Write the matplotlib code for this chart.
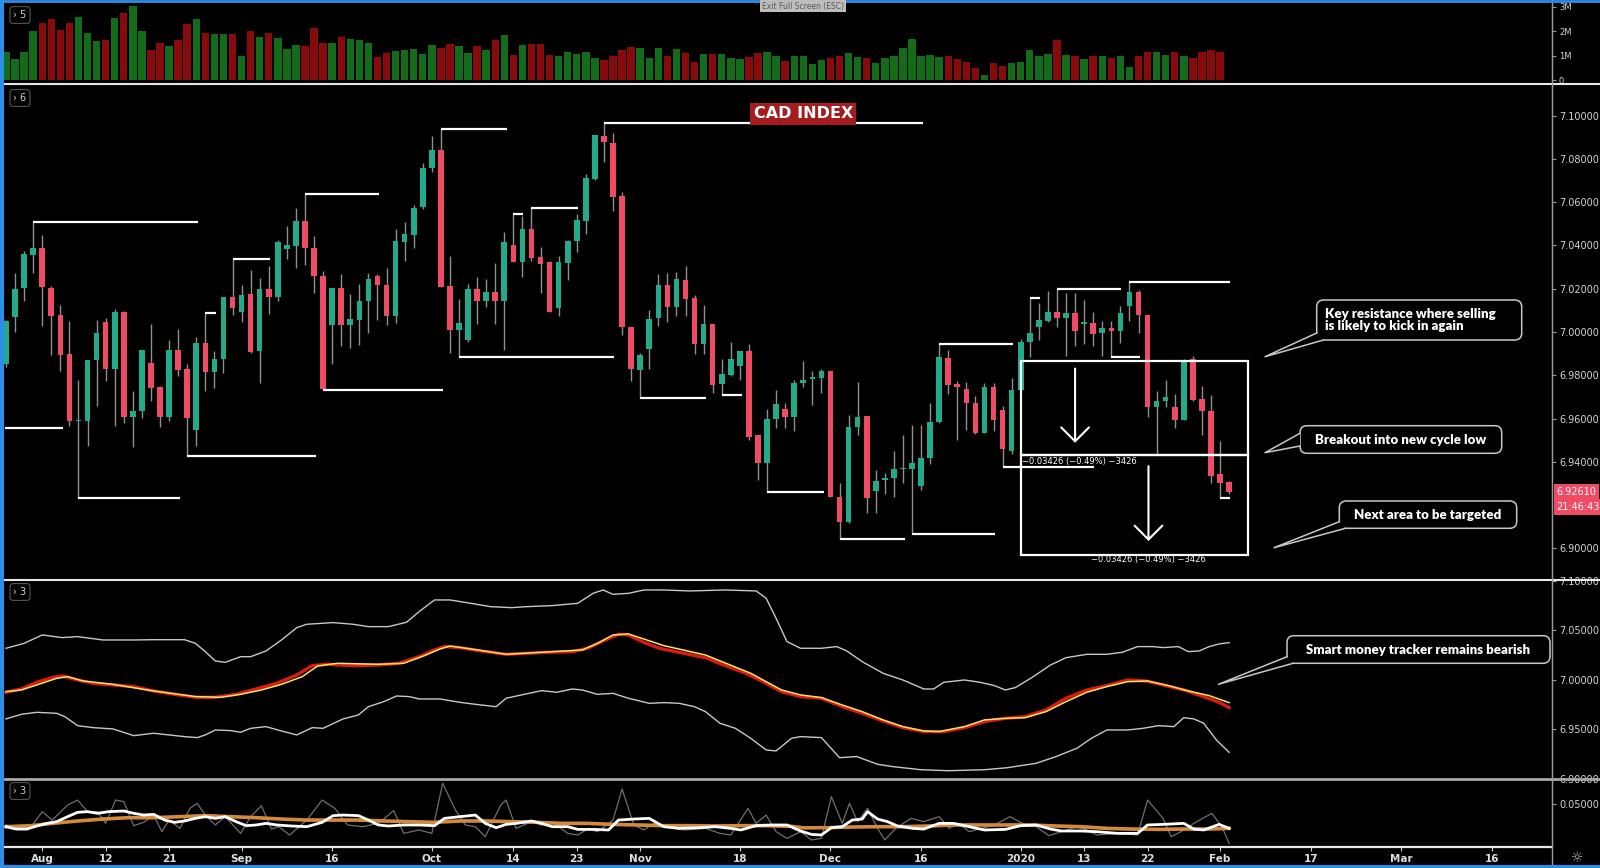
import numpy as np
import pandas as pd
import matplotlib
matplotlib.use("Agg")
import matplotlib.pyplot as plt
from matplotlib.patches import Rectangle, FancyBboxPatch, Polygon
from matplotlib.lines import Line2D
from matplotlib.transforms import blended_transform_factory

# ---------------- data ----------------
first_session = "2019-07-26"
last_session = "2020-03-31"
holidays = ["2019-12-25", "2020-01-01"]

opens = [6.9852, 7.0069, 7.0203, 7.0357, 7.0389, 7.0203, 7.0080, 6.9898, 6.9589, 6.9588,
         6.9871, 7.0046, 6.9829, 7.0092, 6.9606, 6.9634, 6.9857, 6.9746, 6.9606, 6.9915,
         6.9829, 6.9546, 6.9949, 6.9815, 6.9875, 7.0162, 7.0091, 7.0175, 6.9911, 7.0200,
         7.0163, 7.0385, 7.0398, 7.0514, 7.0388, 7.0257, 7.0034, 7.0203, 7.0034, 7.0057,
         7.0142, 7.0260, 7.0218, 7.0072, 7.0418, 7.0449, 7.0580, 7.0757, 7.0842, 7.0214,
         7.0008, 6.9965, 7.0198, 7.0145, 7.0185, 7.0142, 7.0400, 7.0322, 7.0475, 7.0346,
         7.0322, 7.0111, 7.0318, 7.0422, 7.0511, 7.0708, 7.0906, 7.0875, 7.0629, 7.0023,
         6.9825, 6.9922, 7.0065, 7.0218, 7.0114, 7.0242, 7.0157, 6.9946, 7.0037, 6.9760,
         6.9800, 6.9845, 6.9911, 6.9522, 6.9395, 6.9598, 6.9642, 6.9608, 6.9762, 6.9783,
         6.9788, 6.9822, 6.9238, 6.9122, 6.9562, 6.9611, 6.9265, 6.9314, 6.9326, 6.9366,
         6.9369, 6.9288, 6.9418, 6.9585, 6.9880, 6.9760, 6.9738, 6.9672, 6.9534, 6.9746,
         6.9638, 6.9449, 6.9731, 6.9954, 7.0022, 7.0049, 7.0092, 7.0065, 7.0088, 7.0037,
         7.0042, 6.9995, 7.0018, 7.0003, 7.0118, 7.0185, 7.0080, 6.9652, 6.9683, 6.9652,
         6.9591, 6.9877, 6.9691, 6.9634, 6.9345, 6.9306]
highs = [7.0057, 7.0272, 7.0375, 7.0508, 7.0449, 7.0214, 7.0126, 7.0049, 6.9777, 6.9871,
         7.0055, 7.0065, 7.0108, 7.0098, 6.9726, 6.9918, 7.0038, 6.9749, 6.9962, 7.0014,
         6.9852, 6.9977, 7.0088, 6.9911, 7.0163, 7.0337, 7.0218, 7.0288, 7.0249, 7.0303,
         7.0426, 7.0488, 7.0575, 7.0637, 7.0445, 7.0280, 7.0203, 7.0268, 7.0175, 7.0223,
         7.0272, 7.0268, 7.0295, 7.0475, 7.0508, 7.0588, 7.0780, 7.0906, 7.0940, 7.0349,
         7.0152, 7.0223, 7.0252, 7.0245, 7.0318, 7.0462, 7.0545, 7.0538, 7.0575, 7.0392,
         7.0326, 7.0352, 7.0426, 7.0545, 7.0729, 7.0911, 7.0965, 7.0918, 7.0649, 7.0023,
         6.9903, 7.0100, 7.0268, 7.0272, 7.0277, 7.0306, 7.0172, 7.0123, 7.0037, 6.9875,
         6.9952, 6.9914, 6.9945, 6.9522, 6.9646, 6.9734, 6.9672, 6.9780, 6.9865, 6.9818,
         6.9831, 6.9822, 6.9303, 6.9618, 6.9769, 6.9611, 6.9362, 6.9349, 6.9449, 6.9526,
         6.9572, 6.9572, 6.9672, 6.9945, 6.9918, 6.9772, 6.9768, 6.9703, 6.9765, 6.9765,
         6.9657, 6.9788, 6.9968, 7.0157, 7.0134, 7.0191, 7.0200, 7.0180, 7.0180, 7.0149,
         7.0091, 7.0049, 7.0049, 7.0118, 7.0231, 7.0195, 7.0080, 6.9729, 6.9780, 6.9714,
         6.9877, 6.9888, 6.9749, 6.9708, 6.9498, 6.9311]
lows = [6.9837, 7.0000, 7.0145, 7.0272, 7.0026, 6.9892, 6.9818, 6.9565, 6.9234, 6.9475,
        6.9660, 6.9772, 6.9565, 6.9580, 6.9468, 6.9603, 6.9680, 6.9560, 6.9588, 6.9795,
        6.9429, 6.9472, 6.9726, 6.9742, 6.9809, 7.0080, 7.0046, 6.9903, 6.9765, 7.0083,
        7.0145, 7.0338, 7.0298, 7.0311, 7.0180, 6.9734, 6.9852, 6.9937, 6.9926, 6.9942,
        6.9995, 7.0057, 7.0034, 7.0042, 7.0329, 7.0388, 7.0569, 7.0738, 7.0208, 6.9903,
        6.9885, 6.9954, 7.0037, 7.0114, 7.0037, 6.9918, 7.0322, 7.0252, 7.0326, 7.0180,
        7.0091, 7.0075, 7.0242, 7.0372, 7.0454, 7.0703, 7.0788, 7.0560, 6.9988, 6.9772,
        6.9695, 6.9831, 7.0026, 7.0046, 7.0072, 7.0072, 6.9900, 6.9898, 6.9718, 6.9711,
        6.9795, 6.9780, 6.9503, 6.9314, 6.9262, 6.9557, 6.9557, 6.9542, 6.9746, 6.9662,
        6.9718, 6.9238, 6.9042, 6.9118, 6.9523, 6.9162, 6.9162, 6.9249, 6.9237, 6.9303,
        6.9068, 6.9272, 6.9388, 6.9580, 6.9714, 6.9503, 6.9549, 6.9529, 6.9534, 6.9542,
        6.9375, 6.9437, 6.9729, 6.9883, 6.9965, 7.0045, 7.0022, 6.9891, 6.9934, 6.9945,
        6.9937, 6.9888, 6.9883, 6.9949, 7.0049, 6.9995, 6.9608, 6.9437, 6.9652, 6.9557,
        6.9591, 6.9680, 6.9523, 6.9303, 6.9234, 6.9249]
closes = [7.0049, 7.0200, 7.0360, 7.0389, 7.0206, 7.0072, 6.9895, 6.9588, 6.9594, 6.9871,
          6.9995, 6.9829, 7.0092, 6.9606, 6.9634, 6.9918, 6.9742, 6.9606, 6.9915, 6.9823,
          6.9603, 6.9949, 6.9815, 6.9875, 7.0163, 7.0111, 7.0172, 6.9906, 7.0200, 7.0163,
          7.0418, 7.0402, 7.0514, 7.0388, 7.0257, 6.9737, 7.0203, 7.0034, 7.0062, 7.0145,
          7.0246, 7.0215, 7.0072, 7.0422, 7.0452, 7.0572, 7.0760, 7.0842, 7.0208, 7.0008,
          7.0042, 7.0200, 7.0145, 7.0185, 7.0142, 7.0417, 7.0322, 7.0475, 7.0342, 7.0315,
          7.0091, 7.0323, 7.0422, 7.0518, 7.0711, 7.0911, 7.0877, 7.0622, 7.0022, 6.9829,
          6.9895, 7.0062, 7.0218, 7.0114, 7.0245, 7.0152, 6.9946, 7.0038, 6.9757, 6.9806,
          6.9875, 6.9911, 6.9515, 6.9395, 6.9598, 6.9668, 6.9608, 6.9765, 6.9780, 6.9792,
          6.9822, 6.9238, 6.9122, 6.9562, 6.9608, 6.9234, 6.9311, 6.9326, 6.9368, 6.9369,
          6.9395, 6.9418, 6.9585, 6.9885, 6.9757, 6.9745, 6.9672, 6.9534, 6.9746, 6.9591,
          6.9457, 6.9731, 6.9954, 6.9994, 7.0055, 7.0092, 7.0065, 7.0088, 7.0006, 7.0046,
          6.9991, 7.0018, 7.0003, 7.0088, 7.0185, 7.0080, 6.9652, 6.9683, 6.9698, 6.9595,
          6.9872, 6.9688, 6.9634, 6.9334, 6.9303, 6.9261]
volume_m = [1.16, 0.85, 1.16, 2.01, 2.33, 2.51, 2.05, 2.33, 2.58, 1.92,
            1.58, 1.62, 2.53, 2.74, 3.04, 2.01, 1.23, 1.51, 1.40, 1.64,
            2.29, 2.47, 1.92, 1.88, 1.88, 1.88, 0.96, 1.99, 1.75, 1.92,
            1.71, 1.26, 1.44, 1.40, 2.12, 1.53, 1.53, 1.75, 1.68, 1.64,
            1.53, 0.92, 1.12, 1.19, 1.23, 1.26, 1.07, 1.44, 1.30, 1.48,
            1.37, 1.10, 1.40, 1.21, 1.64, 1.85, 1.03, 1.44, 1.48, 1.48,
            1.03, 0.99, 1.16, 1.07, 1.16, 0.89, 0.82, 0.96, 1.23, 1.33,
            1.30, 0.89, 1.30, 0.99, 1.26, 1.10, 0.75, 1.07, 1.07, 1.07,
            0.89, 0.86, 0.93, 1.10, 1.16, 0.99, 0.78, 0.96, 0.96, 0.64,
            0.82, 0.89, 0.99, 1.10, 0.93, 0.89, 0.71, 0.88, 0.99, 1.30,
            1.67, 0.99, 1.03, 0.93, 0.96, 0.85, 0.75, 0.51, 0.21, 0.68,
            0.58, 0.68, 0.75, 1.23, 0.99, 1.07, 1.62, 1.03, 0.99, 0.85,
            0.99, 0.99, 0.89, 0.96, 0.55, 0.99, 1.14, 1.14, 1.03, 1.14,
            0.99, 0.89, 1.14, 1.23, 1.16, 0.02]

# swing high / low markers: (start bar, end bar, level)
swing_start = [3, -0.1, 8, 22, 25, 20, 33, 35, 48, 50, 56, 58, 66, 70, 79, 84, 92, 100,
               103, 110, 113, 116, 122, 124, 134]
swing_end = [21.2, 6.3, 19.2, 23.2, 29.1, 34.2, 41.2, 48.2, 55.3, 67.1, 57.1, 63.1, 101.2,
             77.3, 81.2, 90.3, 99.2, 109.2, 111.2, 120.1, 114.1, 123.1, 125.2, 135.1, 135.1]
swing_level = [7.0508, 6.9557, 6.9234, 7.0088, 7.0337, 6.9429, 7.0637, 6.9734, 7.0940,
               6.9885, 7.0545, 7.0575, 7.0965, 6.9695, 6.9711, 6.9262, 6.9042, 6.9068,
               6.9945, 6.9375, 7.0157, 7.0200, 6.9883, 7.0231, 6.9234]

# "smart money tracker" panel
upper_i = [0, 2.0, 4.0, 6.2, 7.9, 10.7, 14.1, 16.3, 19.7, 20.9, 22.0, 23.1, 24.2, 25.9, 27.0,
           28.7, 30.4, 32.1, 33.2, 36.1, 38.3, 40.0, 42.2, 44.2, 45.6, 47.3, 49.0, 51.3, 53.5,
           55.8, 57.4, 60.3, 63.1, 64.8, 65.9, 67.0, 68.7, 70.4, 72.6, 75.5, 79.4, 82.8, 83.9,
           85.0, 86.2, 87.7, 90.0, 91.7, 92.8, 94.5, 96.8, 99.0, 101.3, 102.4, 103.5, 105.8,
           107.5, 109.1, 110.3, 111.4, 113.1, 115.3, 117.0, 119.3, 121.5, 123.2, 124.9, 126.6,
           127.7, 129.4, 130.5, 131.7, 132.8, 133.9, 135.0]
upper_v = [7.0319, 7.0369, 7.0454, 7.0427, 7.0437, 7.0403, 7.0403, 7.0406, 7.0406, 7.0369,
           7.0285, 7.0191, 7.0177, 7.0234, 7.0234, 7.0292, 7.0403, 7.0528, 7.0562, 7.0579,
           7.0562, 7.0538, 7.0538, 7.0582, 7.0690, 7.0808, 7.0808, 7.0774, 7.0740, 7.0730,
           7.0740, 7.0751, 7.0774, 7.0875, 7.0909, 7.0865, 7.0875, 7.0909, 7.0909, 7.0899,
           7.0909, 7.0899, 7.0825, 7.0622, 7.0386, 7.0319, 7.0319, 7.0336, 7.0292, 7.0184,
           7.0066, 6.9998, 6.9907, 6.9907, 6.9975, 6.9998, 6.9975, 6.9941, 6.9897, 6.9921,
           7.0015, 7.0150, 7.0224, 7.0258, 7.0258, 7.0278, 7.0336, 7.0336, 7.0326, 7.0336,
           7.0285, 7.0292, 7.0336, 7.0363, 7.0376]
lower_i = [0, 1.7, 3.4, 5.6, 6.5, 7.9, 9.6, 11.8, 14.1, 16.3, 18.0, 19.7, 21.1, 22.0, 23.1,
           24.8, 25.9, 27.0, 28.7, 30.4, 32.1, 33.8, 35.0, 37.2, 38.9, 40.0, 41.7, 43.1, 44.5,
           45.6, 47.9, 50.1, 51.8, 54.1, 55.2, 56.9, 59.1, 60.8, 62.5, 63.6, 65.3, 67.0, 68.7,
           71.0, 72.6, 74.3, 76.0, 77.2, 78.8, 80.5, 82.2, 83.9, 85.0, 86.7, 87.7, 90.0, 92.0,
           93.9, 96.2, 98.0, 101.0, 104.0, 108.0, 110.5, 113.7, 115.9, 118.2, 119.8, 121.5,
           123.8, 125.5, 127.2, 128.9, 130.0, 131.1, 132.2, 133.6, 135.0]
lower_v = [6.9604, 6.9651, 6.9671, 6.9661, 6.9627, 6.9536, 6.9516, 6.9503, 6.9435, 6.9459,
           6.9442, 6.9425, 6.9415, 6.9442, 6.9492, 6.9486, 6.9469, 6.9509, 6.9526, 6.9482,
           6.9442, 6.9516, 6.9509, 6.9604, 6.9644, 6.9728, 6.9779, 6.9836, 6.9830, 6.9806,
           6.9806, 6.9772, 6.9752, 6.9728, 6.9813, 6.9847, 6.9890, 6.9874, 6.9907, 6.9897,
           6.9853, 6.9863, 6.9813, 6.9762, 6.9769, 6.9762, 6.9728, 6.9678, 6.9560, 6.9509,
           6.9408, 6.9290, 6.9280, 6.9408, 6.9425, 6.9415, 6.9212, 6.9223, 6.9145, 6.9120,
           6.9090, 6.9080, 6.9090, 6.9110, 6.9155, 6.9223, 6.9307, 6.9408, 6.9492, 6.9492,
           6.9509, 6.9536, 6.9526, 6.9617, 6.9604, 6.9560, 6.9391, 6.9266]
red_i = [0, 1.7, 3.4, 5.1, 6.2, 7.9, 9.6, 11.8, 14.1, 16.3, 18.6, 20.9, 23.1, 25.4, 27.6, 29.9,
         32.1, 33.8, 35.5, 38.3, 41.1, 43.4, 45.6, 47.3, 48.4, 50.1, 52.4, 55.2, 57.4, 59.7,
         62.5, 64.2, 65.9, 67.6, 68.7, 70.4, 72.1, 74.3, 77.2, 79.4, 81.7, 83.9, 85.6, 87.7,
         90.0, 92.3, 94.5, 96.8, 99.0, 101.3, 103.5, 105.8, 108.0, 110.3, 112.5, 114.8, 117.0,
         119.3, 121.5, 123.8, 125.8, 127.7, 130.0, 132.2, 133.9, 135.0]
red_v = [6.9874, 6.9907, 6.9975, 7.0022, 7.0039, 6.9998, 6.9965, 6.9948, 6.9931, 6.9887,
         6.9853, 6.9823, 6.9823, 6.9853, 6.9907, 6.9965, 7.0049, 7.0143, 7.0157, 7.0143,
         7.0150, 7.0167, 7.0234, 7.0302, 7.0336, 7.0326, 7.0292, 7.0258, 7.0268, 7.0278,
         7.0285, 7.0319, 7.0393, 7.0460, 7.0454, 7.0379, 7.0319, 7.0278, 7.0224, 7.0143,
         7.0066, 6.9965, 6.9880, 6.9830, 6.9813, 6.9729, 6.9661, 6.9584, 6.9516, 6.9476,
         6.9476, 6.9516, 6.9577, 6.9610, 6.9627, 6.9695, 6.9813, 6.9897, 6.9941, 6.9998,
         6.9988, 6.9948, 6.9897, 6.9830, 6.9772, 6.9718]
yel_i = [0, 1.7, 3.4, 5.6, 6.8, 8.5, 11.8, 16.3, 20.9, 23.7, 25.9, 28.2, 30.4, 32.7, 34.4,
         36.6, 41.1, 43.9, 46.2, 47.9, 49.0, 51.3, 55.2, 63.6, 65.3, 67.0, 68.7, 70.4, 72.6,
         77.2, 82.2, 85.6, 87.7, 90.0, 92.3, 94.5, 96.8, 99.0, 101.3, 103.0, 105.8, 108.0,
         110.3, 112.5, 114.8, 117.0, 119.3, 121.5, 123.8, 126.0, 128.3, 130.5, 132.8, 135.0]
yel_v = [6.9880, 6.9897, 6.9948, 7.0015, 7.0032, 6.9988, 6.9954, 6.9887, 6.9830, 6.9823,
         6.9853, 6.9897, 6.9954, 7.0032, 7.0140, 7.0167, 7.0157, 7.0167, 7.0245, 7.0312,
         7.0342, 7.0312, 7.0258, 7.0302, 7.0369, 7.0454, 7.0464, 7.0413, 7.0346, 7.0251,
         7.0066, 6.9897, 6.9847, 6.9820, 6.9745, 6.9678, 6.9594, 6.9526, 6.9482, 6.9476,
         6.9526, 6.9594, 6.9610, 6.9617, 6.9678, 6.9779, 6.9874, 6.9931, 6.9981, 6.9988,
         6.9941, 6.9887, 6.9840, 6.9769]

# bottom oscillator panel
org_i = [0, 2.8, 5.1, 7.9, 10.7, 13.5, 16.3, 19.2, 22.0, 24.8, 27.6, 30.4, 33.2, 36.1, 38.9,
         41.7, 44.5, 47.3, 50.1, 52.9, 55.8, 58.6, 61.4, 64.2, 67.0, 69.8, 72.6, 75.5, 78.3,
         81.1, 83.9, 86.7, 88.0, 90.6, 93.4, 96.2, 99.0, 101.8, 104.6, 107.5, 110.3, 113.1,
         115.9, 118.7, 121.5, 124.3, 127.2, 130.0, 132.8, 135.0]
org_v = [0.0236, 0.0248, 0.0275, 0.0303, 0.0326, 0.0342, 0.0342, 0.0354, 0.0366, 0.0354,
         0.0342, 0.0326, 0.0314, 0.0314, 0.0314, 0.0303, 0.0295, 0.0287, 0.0303, 0.0303,
         0.0295, 0.0287, 0.0275, 0.0275, 0.0263, 0.0256, 0.0248, 0.0248, 0.0244, 0.0248,
         0.0248, 0.0240, 0.0222, 0.0224, 0.0232, 0.0236, 0.0236, 0.0244, 0.0256, 0.0256,
         0.0256, 0.0256, 0.0244, 0.0236, 0.0216, 0.0208, 0.0204, 0.0208, 0.0208, 0.0216]
white_i = [0, 1.1, 2.3, 3.4, 4.5, 5.6, 6.8, 7.9, 9.0, 10.1, 11.3, 13.0, 14.1, 15.2, 16.3,
           17.5, 18.6, 19.7, 20.9, 22.0, 23.1, 24.2, 25.4, 26.5, 27.6, 28.7, 29.9, 31.5, 33.2,
           34.9, 36.1, 37.2, 38.9, 40.0, 41.1, 42.2, 43.9, 45.6, 47.3, 48.4, 50.1, 51.8, 52.9,
           54.1, 55.2, 56.3, 58.0, 59.1, 60.3, 62.0, 63.1, 64.8, 66.5, 67.6, 69.3, 71.0, 72.6,
           74.3, 76.6, 78.3, 80.0, 81.1, 82.8, 84.5, 86.2, 87.7, 88.9, 90.0, 91.1, 92.3, 93.4,
           94.5, 95.1, 96.2, 97.3, 98.4, 100.1, 101.3, 103.0, 104.6, 106.3, 108.0, 110.3,
           112.0, 113.7, 115.3, 116.5, 118.7, 120.4, 122.7, 124.9, 126.0, 127.7, 130.0, 131.1,
           132.2, 133.9, 135.0]
white_v = [0.0236, 0.0208, 0.0208, 0.0244, 0.0275, 0.0295, 0.0354, 0.0405, 0.0413, 0.0393,
           0.0413, 0.0421, 0.0393, 0.0373, 0.0381, 0.0314, 0.0287, 0.0303, 0.0334, 0.0354,
           0.0334, 0.0354, 0.0295, 0.0248, 0.0256, 0.0275, 0.0256, 0.0244, 0.0236, 0.0287,
           0.0366, 0.0373, 0.0366, 0.0314, 0.0256, 0.0244, 0.0256, 0.0256, 0.0248, 0.0334,
           0.0354, 0.0373, 0.0275, 0.0224, 0.0263, 0.0275, 0.0303, 0.0275, 0.0236, 0.0236,
           0.0204, 0.0204, 0.0197, 0.0314, 0.0326, 0.0334, 0.0236, 0.0216, 0.0224, 0.0236,
           0.0216, 0.0197, 0.0248, 0.0256, 0.0256, 0.0185, 0.0145, 0.0138, 0.0224, 0.0236,
           0.0314, 0.0326, 0.0413, 0.0326, 0.0295, 0.0244, 0.0216, 0.0208, 0.0275, 0.0275,
           0.0236, 0.0197, 0.0204, 0.0248, 0.0256, 0.0208, 0.0185, 0.0185, 0.0177, 0.0157,
           0.0157, 0.0256, 0.0263, 0.0275, 0.0208, 0.0197, 0.0263, 0.0216]
gray_i = [0, 1.7, 2.8, 4.0, 5.1, 6.8, 7.9, 9.0, 10.1, 11.0, 12.1, 13.0, 14.1, 15.2, 16.3,
          17.2, 18.0, 19.2, 20.3, 21.1, 22.0, 23.1, 24.2, 25.9, 27.0, 28.2, 29.3, 30.1, 31.3,
          33.2, 34.9, 36.3, 37.7, 39.4, 41.1, 42.8, 43.9, 45.6, 47.0, 48.2, 49.6, 50.7, 51.8,
          52.9, 54.6, 55.2, 56.3, 58.0, 59.1, 60.5, 62.0, 63.1, 64.2, 65.3, 67.0, 68.0, 69.3,
          70.4, 71.5, 72.6, 74.9, 77.2, 78.8, 80.0, 81.9, 82.8, 83.9, 85.0, 86.2, 87.7, 88.9,
          90.0, 91.1, 92.3, 93.1, 94.0, 95.1, 96.2, 97.0, 98.2, 99.9, 101.3, 103.0, 104.1,
          105.2, 106.3, 107.7, 109.1, 110.8, 112.2, 113.7, 115.1, 116.5, 118.2, 119.3, 120.4,
          122.7, 124.9, 126.0, 127.7, 128.6, 129.7, 131.1, 133.1, 134.2, 135.0]
gray_v = [0.0256, 0.0216, 0.0236, 0.0413, 0.0314, 0.0491, 0.0550, 0.0413, 0.0413, 0.0275,
          0.0550, 0.0531, 0.0248, 0.0287, 0.0373, 0.0177, 0.0314, 0.0216, 0.0452, 0.0511,
          0.0373, 0.0256, 0.0354, 0.0157, 0.0354, 0.0483, 0.0208, 0.0236, 0.0138, 0.0314,
          0.0550, 0.0452, 0.0256, 0.0236, 0.0275, 0.0425, 0.0157, 0.0197, 0.0157, 0.0747,
          0.0432, 0.0256, 0.0236, 0.0118, 0.0491, 0.0550, 0.0216, 0.0295, 0.0256, 0.0275,
          0.0157, 0.0138, 0.0208, 0.0177, 0.0314, 0.0680, 0.0256, 0.0197, 0.0275, 0.0236,
          0.0197, 0.0216, 0.0157, 0.0138, 0.0452, 0.0275, 0.0373, 0.0177, 0.0098, 0.0177,
          0.0079, 0.0098, 0.0590, 0.0275, 0.0511, 0.0295, 0.0452, 0.0216, 0.0079, 0.0216,
          0.0334, 0.0295, 0.0354, 0.0216, 0.0275, 0.0177, 0.0216, 0.0256, 0.0354, 0.0275,
          0.0236, 0.0130, 0.0177, 0.0236, 0.0197, 0.0138, 0.0157, 0.0138, 0.0550, 0.0334,
          0.0118, 0.0177, 0.0275, 0.0393, 0.0236, 0.0039]

tick_dates = ["2019-08-01", "2019-08-12", "2019-08-21", "2019-09-02", "2019-09-16",
              "2019-10-01", "2019-10-14", "2019-10-23", "2019-11-01", "2019-11-18",
              "2019-12-02", "2019-12-16", "2020-01-02", "2020-01-13", "2020-01-22",
              "2020-02-03", "2020-02-17", "2020-03-02", "2020-03-16"]
tick_labels = ["Aug", "12", "21", "Sep", "16", "Oct", "14", "23", "Nov", "18",
               "Dec", "16", "2020", "13", "22", "Feb", "17", "Mar", "16"]

# ---------------- layout ----------------
W, H = 1600, 868
BAR0_PX, BAR_PX = 6.0, 9.06
PLOT_L, PLOT_R = 3, 1552
x_lo = (PLOT_L - BAR0_PX) / BAR_PX
x_hi = (PLOT_R - BAR0_PX) / BAR_PX

GREEN, RED = "#22ab8b", "#ef4b65"
VOL_GREEN, VOL_RED = "#146c1a", "#870b0b"
AXIS_GRAY, LABEL = "#9a9a9a", "#d4d4d4"
NARROW = ["Liberation Sans Narrow", "DejaVu Sans"]
BOLD_FONT = ["Lato", "DejaVu Sans"]

sessions = pd.bdate_range(first_session, last_session).drop(pd.to_datetime(holidays))
tick_pos = [sessions.get_loc(pd.Timestamp(d)) for d in tick_dates]

o, h, l, c = (np.array(a) for a in (opens, highs, lows, closes))
idx = np.arange(len(o))
up = c >= o

fig = plt.figure(figsize=(W / 100, H / 100), dpi=100, facecolor="black")


def panel(top, bottom, ylim, ticks, labels, size=7):
    ax = fig.add_axes([PLOT_L / W, 1 - bottom / H, (PLOT_R - PLOT_L) / W, (bottom - top) / H])
    ax.set_facecolor("black")
    ax.set_xlim(x_lo, x_hi)
    ax.set_ylim(*ylim)
    for s in ("left", "top", "bottom"):
        ax.spines[s].set_visible(False)
    ax.spines["right"].set_color(AXIS_GRAY)
    ax.yaxis.tick_right()
    ax.set_yticks(ticks, labels)
    ax.tick_params(axis="y", color=AXIS_GRAY, labelcolor=LABEL, length=3, width=0.8,
                   pad=2, labelsize=size, labelfontfamily=NARROW)
    ax.set_xticks([])
    return ax


# volume
vol = panel(3, 84, (-0.163, 3.143), [0, 1, 2, 3], ["0", "1M", "2M", "3M"], size=6)
vol.bar(idx, volume_m, width=0.82, color=np.where(up, VOL_GREEN, VOL_RED), zorder=2)

# price
main_ticks = [t for t in np.round(np.arange(6.90, 7.1001, 0.02), 2) if abs(t - 6.92) > 1e-6]
main = panel(84.5, 579.5, (6.8856, 7.1144), main_ticks, [f"{t:.5f}" for t in main_ticks])
main.vlines(idx, l, h, color="#8f8f8f", lw=1, zorder=2)
main.bar(idx, np.maximum(np.abs(c - o), 0.0004), bottom=np.minimum(o, c), width=0.62,
         color=np.where(up, GREEN, RED), zorder=3)
main.hlines(swing_level, swing_start, swing_end, color="white", lw=1.6, zorder=4)

# measure boxes + arrows
box_left, box_right = 112.0, 137.1
box_top, box_mid, box_bot = 6.9868, 6.9431, 6.8969
for y0, y1 in ((box_mid, box_top), (box_bot, box_mid)):
    main.add_patch(Rectangle((box_left, y0), box_right - box_left, y1 - y0, fill=False,
                             ec="white", lw=1.6, zorder=5))
meas = "\u22120.03426 (\u22120.49%) \u22123426"
main.text(box_left + 0.1, 6.9400, meas, color="white", fontsize=6, ha="left", va="center", zorder=6)
main.text(126.1, 6.8949, meas, color="white", fontsize=6, ha="center", va="center", zorder=6)
for xa, ya, yb in ((118.0, 6.9831, 6.9488), (126.1, 6.9380, 6.9034)):
    main.annotate("", xy=(xa, yb), xytext=(xa, ya),
                  arrowprops=dict(arrowstyle="->,head_length=0.5,head_width=0.5", color="white",
                                  lw=1.5, mutation_scale=20, shrinkA=0, shrinkB=0), zorder=6)

main.text(88.0, 7.1009, "CAD INDEX", ha="center", va="center", color="white", fontsize=11.5,
          fontweight="bold", family="DejaVu Sans", zorder=7,
          bbox=dict(boxstyle="square,pad=0.22", fc="#a51c1f", ec="none"))

# last price tag
tr = blended_transform_factory(main.transAxes, main.transData)
main.text(1.003, c[-1], f"{c[-1]:.5f}", transform=tr, ha="left", va="center", fontsize=7,
          color="white", family=NARROW, clip_on=False, zorder=8,
          bbox=dict(boxstyle="square,pad=0.3", fc="#ef4b65", ec="none"))
main.annotate("21:46:43", xy=(1.003, c[-1]), xycoords=tr, xytext=(0, -11),
              textcoords="offset points", ha="left", va="center", fontsize=7, color="white",
              family=NARROW, annotation_clip=False, zorder=8,
              bbox=dict(boxstyle="square,pad=0.3", fc="#ef4b65", ec="none"))

# smart money tracker
ind_ticks = [6.90, 6.95, 7.00, 7.05, 7.10]
ind = panel(579.5, 779.5, (6.8991, 7.1015), ind_ticks, [f"{t:.5f}" for t in ind_ticks])
ind.plot(upper_i, upper_v, color="#c8c8c8", lw=1)
ind.plot(lower_i, lower_v, color="#c8c8c8", lw=1)
ind.plot(red_i, red_v, color="#dd1a10", lw=2.4)
ind.plot(yel_i, yel_v, color="#f2e56a", lw=1.1)

# oscillator
osc = panel(779.5, 846.7, (0, 0.0792), [0.05], ["0.05000"])
osc.plot(gray_i, gray_v, color="#6f6f6f", lw=0.9)
osc.plot(org_i, org_v, color="#d48a3a", lw=2.6)
osc.plot(white_i, white_v, color="white", lw=2.0)
osc.spines["bottom"].set_visible(True)
osc.spines["bottom"].set_color("#e6e6e6")
osc.spines["bottom"].set_linewidth(1.6)
osc.set_xticks(tick_pos, tick_labels)
osc.tick_params(axis="x", color="#cfcfcf", labelcolor="#dedede", length=3, pad=2.5,
                labelsize=7.5, labelfontfamily=NARROW)
for t in osc.get_xticklabels():
    t.set_fontweight("bold")

# ---------------- overlay in pixel space ----------------
ov = fig.add_axes([0, 0, 1, 1], zorder=10)
ov.set_xlim(0, W)
ov.set_ylim(H, 0)
ov.axis("off")

for y, col, lw in ((84.3, "#e8e8e8", 1.5), (579.5, "#e8e8e8", 1.5), (779.3, "#a8a8a8", 2.0)):
    ov.add_line(Line2D([0, W], [y, y], color=col, lw=lw))
ov.add_line(Line2D([PLOT_R, PLOT_R], [0, H], color=AXIS_GRAY, lw=1))
ov.add_line(Line2D([1.5, 1.5], [0, H], color="#2d8ee8", lw=3))
ov.add_line(Line2D([0, W], [1, 1], color="#2d8ee8", lw=2))
ov.add_line(Line2D([0, W], [866.5, 866.5], color="#2d8ee8", lw=3))

for ty, tag in ((15, "\u203a 5"), (98, "\u203a 6"), (592, "\u203a 3"), (791, "\u203a 3")):
    ov.text(20, ty, tag, color="#d0d0d0", fontsize=7, ha="center", va="center",
            bbox=dict(boxstyle="round,pad=0.35,rounding_size=0.3", fc="black", ec="#555555", lw=0.8))

ov.text(803, 6, "Exit Full Screen (ESC)", fontsize=5.5, color="#5a5a5a", ha="center",
        va="center", bbox=dict(boxstyle="square,pad=0.25", fc="#bdbdbd", ec="none"))
ov.text(1577, 858, "\u263c", color="#bbbbbb", fontsize=10, ha="center", va="center")


def callout(x0, y0, x1, y1, tip, a, b, text, tx, ty, ha="center"):
    ov.add_patch(FancyBboxPatch((x0, y0), x1 - x0, y1 - y0,
                                boxstyle="round,pad=0,rounding_size=7",
                                fc="black", ec="#c8c8c8", lw=1.1, zorder=11))
    ov.add_patch(Polygon([tip, a, b], closed=True, fc="black", ec="none", zorder=12))
    ov.add_line(Line2D([a[0], tip[0], b[0]], [a[1], tip[1], b[1]], color="#c8c8c8",
                       lw=1.1, zorder=13))
    ov.text(tx, ty, text, color="white", fontsize=9.5, fontweight="heavy", family=BOLD_FONT,
            ha=ha, va="center", linespacing=0.95, zorder=14)


callout(1316.7, 300, 1521.7, 340, (1265, 356.7), (1316.7, 333), (1323.5, 340),
        "Key resistance where selling\nis likely to kick in again", 1325, 320, ha="left")
callout(1300, 425.7, 1501.7, 453.3, (1265, 452.7), (1300, 433.3), (1300, 446),
        "Breakout into new cycle low", 1401, 439.5)
callout(1339.3, 501, 1516.7, 528.3, (1274, 547.7), (1339.3, 521.7), (1345.5, 528.3),
        "Next area to be targeted", 1428, 514.7)
callout(1287, 635.7, 1550, 663.3, (1218.4, 684.3), (1287, 656.7), (1293, 663.3),
        "Smart money tracker remains bearish", 1418.5, 649.5)

fig.savefig("out.png", dpi=100, facecolor="black")
